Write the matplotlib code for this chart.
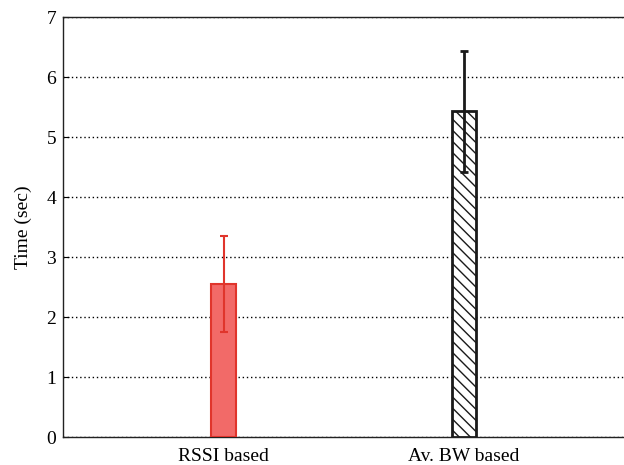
import matplotlib
matplotlib.use("Agg")
from matplotlib import pyplot as plt

# Mean switching time and spread for each method
methods = ['RSSI based', 'Av. BW based']
mean_time = [2.55, 5.43]
err_time = [0.80, 1.01]

plt.rcParams['font.family'] = ['Liberation Serif', 'DejaVu Serif']
plt.rcParams['hatch.linewidth'] = 1.0

fig = plt.figure(figsize=(6.24, 4.65), dpi=100)
ax = fig.add_axes([0.101, 0.060, 0.905, 0.903])

pos = [1, 2]
face = ['#f26a68', 'white']
edge = ['#e0352c', '#1a1a1a']
hatch = [None, '\\\\\\']
lw = [1.5, 2.0]

for i in range(len(methods)):
    ax.bar(pos[i], mean_time[i], width=0.1, color=face[i], edgecolor=edge[i],
           hatch=hatch[i], linewidth=lw[i], zorder=3)
    ax.errorbar(pos[i], mean_time[i], yerr=err_time[i], fmt='none',
                ecolor=edge[i], elinewidth=lw[i], capsize=3, capthick=lw[i], zorder=4)

ax.set_xlim(0.333, 2.68)
ax.set_ylim(0, 7)
ax.set_xticks(pos)
ax.set_xticklabels(methods, fontsize=14)
ax.set_yticks(range(0, 8))
ax.tick_params(axis='y', direction='in', length=4, labelsize=14, pad=5)
ax.tick_params(axis='x', length=0, pad=8)
ax.set_ylabel('Time (sec)', fontsize=14, labelpad=10)

ax.yaxis.grid(True, linestyle=(0, (1, 2)), color='black', linewidth=1.0, zorder=0)
ax.set_axisbelow(True)

for s in ['left', 'top', 'bottom']:
    ax.spines[s].set_linewidth(1.0)
    ax.spines[s].set_color('#222222')
ax.spines['right'].set_visible(False)

fig.savefig('out.png', dpi=100)
